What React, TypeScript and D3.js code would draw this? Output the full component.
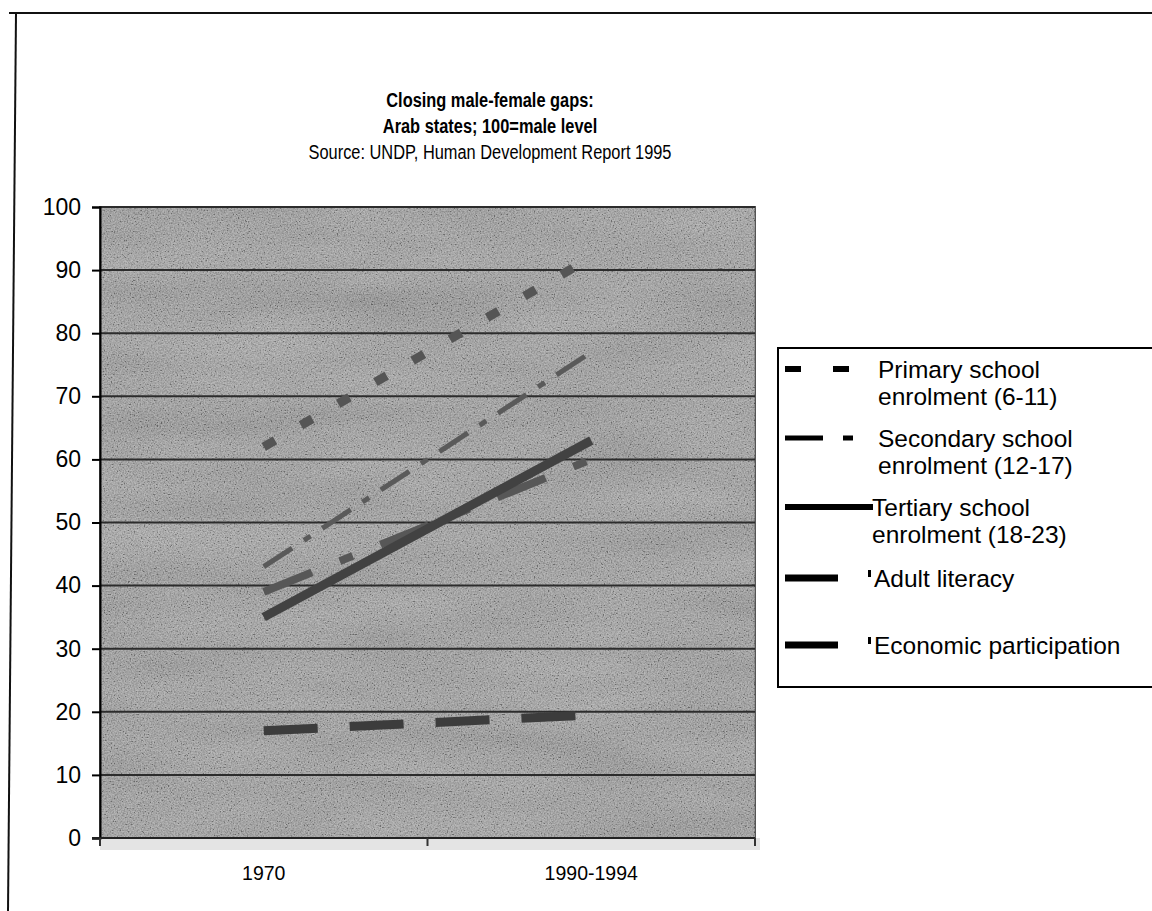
import React, { useEffect, useRef } from "react";
import * as d3 from "d3";

const categories = ["1970", "1990-1994"];
const yTicks = [0, 10, 20, 30, 40, 50, 60, 70, 80, 90, 100];

const primary = [62, 92];
const secondary = [43, 77];
const tertiary = [35, 63];
const adultLiteracy = [39, 60];
const economic = [17, 19.5];

const titleLines = [
  "Closing male-female gaps:",
  "Arab states; 100=male level",
  "Source: UNDP, Human Development Report 1995",
];

const App = () => {
  const chartRef = useRef(null);

  useEffect(() => {
    const W = 1152;
    const H = 911;
    const plot = { left: 100, right: 755, top: 207, bottom: 838 };
    const font = "'Liberation Sans', Arial, sans-serif";

    d3.select(chartRef.current).select("svg").remove();

    const svg = d3
      .select(chartRef.current)
      .append("svg")
      .attr("width", W)
      .attr("height", H)
      .style("display", "block")
      .style("background", "#fff");

    // grain + blotches so the plot looks like the photocopy
    const defs = svg.append("defs");
    const f = defs.append("filter").attr("id", "grain").attr("x", 0).attr("y", 0).attr("width", 1).attr("height", 1);
    f.append("feTurbulence")
      .attr("type", "fractalNoise")
      .attr("baseFrequency", 0.7)
      .attr("numOctaves", 2)
      .attr("seed", 4);
    f.append("feColorMatrix")
      .attr("type", "matrix")
      .attr("values", "0.33 0.33 0.33 0 0  0.33 0.33 0.33 0 0  0.33 0.33 0.33 0 0  0 0 0 0 1");
    const ct = f.append("feComponentTransfer");
    ["feFuncR", "feFuncG", "feFuncB"].forEach((fn) => ct.append(fn).attr("type", "linear").attr("slope", 3.2).attr("intercept", -1.05));
    ct.append("feFuncA").attr("type", "linear").attr("slope", 0).attr("intercept", 0.3);

    const f2 = defs.append("filter").attr("id", "blotch").attr("x", 0).attr("y", 0).attr("width", 1).attr("height", 1);
    f2.append("feTurbulence")
      .attr("type", "fractalNoise")
      .attr("baseFrequency", "0.006 0.025")
      .attr("numOctaves", 2)
      .attr("seed", 9);
    f2.append("feColorMatrix")
      .attr("type", "matrix")
      .attr("values", "0.33 0.33 0.33 0 0  0.33 0.33 0.33 0 0  0.33 0.33 0.33 0 0  0 0 0 0 0.3");

    // outer frame
    svg.append("line").attr("x1", 9).attr("y1", 13).attr("x2", W).attr("y2", 13).attr("stroke", "#111").attr("stroke-width", 2);
    svg.append("line").attr("x1", 16).attr("y1", 13).attr("x2", 8).attr("y2", H).attr("stroke", "#111").attr("stroke-width", 2);

    // title (the scan's title type is narrow)
    titleLines.forEach((t, i) => {
      svg
        .append("text")
        .attr("transform", `translate(490,${107 + i * 26}) scale(0.78,1)`)
        .attr("text-anchor", "middle")
        .attr("font-family", font)
        .attr("font-size", 21)
        .attr("font-weight", i < 2 ? "bold" : "normal")
        .attr("fill", "#000")
        .text(t);
    });

    const xBand = d3.scaleBand().domain(categories).range([plot.left, plot.right]);
    const x = d3.scalePoint().domain(categories).range([plot.left, plot.right]).padding(0.5);
    const y = d3.scaleLinear().domain([0, 100]).range([plot.bottom, plot.top]);

    // plot background
    svg.append("rect")
      .attr("x", plot.left)
      .attr("y", plot.bottom)
      .attr("width", plot.right - plot.left + 5)
      .attr("height", 12)
      .attr("fill", "#e4e4e4");
    svg.append("rect")
      .attr("x", plot.left)
      .attr("y", plot.top)
      .attr("width", plot.right - plot.left)
      .attr("height", plot.bottom - plot.top)
      .attr("fill", "#8a8a8a")
      .attr("stroke", "#555")
      .attr("stroke-width", 2);
    svg.append("rect")
      .attr("x", plot.left)
      .attr("y", plot.top)
      .attr("width", plot.right - plot.left)
      .attr("height", plot.bottom - plot.top)
      .attr("filter", "url(#blotch)");
    svg.append("rect")
      .attr("x", plot.left)
      .attr("y", plot.top)
      .attr("width", plot.right - plot.left)
      .attr("height", plot.bottom - plot.top)
      .attr("filter", "url(#grain)");

    // gridlines
    svg
      .selectAll(".grid")
      .data(yTicks.filter((d) => d > 0))
      .enter()
      .append("line")
      .attr("x1", plot.left)
      .attr("x2", plot.right)
      .attr("y1", (d) => y(d))
      .attr("y2", (d) => y(d))
      .attr("stroke", "#2c2c2c")
      .attr("stroke-width", 2);

    // y axis
    const yAxis = svg.append("g").attr("transform", `translate(${plot.left},0)`).call(d3.axisLeft(y).tickValues(yTicks).tickSize(8).tickPadding(11));
    yAxis.select(".domain").attr("stroke", "#000").attr("stroke-width", 2);
    yAxis.selectAll(".tick line").attr("stroke", "#000").attr("stroke-width", 2);
    yAxis.selectAll(".tick text").attr("font-family", font).attr("font-size", 23).attr("fill", "#000");

    // x axis
    svg.append("line")
      .attr("x1", plot.left - 8).attr("x2", plot.right)
      .attr("y1", plot.bottom).attr("y2", plot.bottom)
      .attr("stroke", "#222").attr("stroke-width", 2);
    const xTickPos = categories.map((c) => xBand(c)).concat([xBand(categories[categories.length - 1]) + xBand.bandwidth()]);
    svg
      .selectAll(".xtick")
      .data(xTickPos)
      .enter()
      .append("line")
      .attr("x1", (d) => d)
      .attr("x2", (d) => d)
      .attr("y1", plot.bottom)
      .attr("y2", plot.bottom + 8)
      .attr("stroke", "#333")
      .attr("stroke-width", 2);
    svg
      .selectAll(".xlabel")
      .data(categories)
      .enter()
      .append("text")
      .attr("x", (d) => x(d))
      .attr("y", plot.bottom + 42)
      .attr("text-anchor", "middle")
      .attr("font-family", font)
      .attr("font-size", 19.5)
      .attr("fill", "#000")
      .text((d) => d);

    const series = [
      { name: "Primary", values: primary, color: "#555", width: 9, dash: "13,30" },
      { name: "Secondary", values: secondary, color: "#5a5a5a", width: 5, dash: "34,14,8,14" },
      { name: "Adult", values: adultLiteracy, color: "#575757", width: 8, dash: "52,30,14,30" },
      { name: "Tertiary", values: tertiary, color: "#424242", width: 9, dash: null },
      { name: "Economic", values: economic, color: "#3c3c3c", width: 9, dash: "54,32" },
    ];

    const line = d3
      .line()
      .x((d) => x(d.c))
      .y((d) => y(d.v));

    series.forEach((s) => {
      svg
        .append("path")
        .datum(categories.map((c, i) => ({ c, v: s.values[i] })))
        .attr("fill", "none")
        .attr("stroke", s.color)
        .attr("stroke-width", s.width)
        .attr("stroke-dasharray", s.dash)
        .attr("d", line);
    });

    // legend
    const lg = svg.append("g");
    lg.append("rect")
      .attr("x", 778)
      .attr("y", 348)
      .attr("width", 390)
      .attr("height", 339)
      .attr("fill", "#fff")
      .attr("stroke", "#000")
      .attr("stroke-width", 2);

    const legendItems = [
      { lines: ["Primary school", "enrolment (6-11)"], y: 369, w: 6, len: 64, dash: "16,32", tx: 878 },
      { lines: ["Secondary school", "enrolment (12-17)"], y: 438, w: 5, len: 68, dash: "38,20,10,20", tx: 878 },
      { lines: ["Tertiary school", "enrolment (18-23)"], y: 507, w: 6, len: 88, dash: null, tx: 872 },
      { lines: ["Adult literacy"], y: 578, w: 7, len: 53, dash: null, tx: 874, mark: true },
      { lines: ["Economic participation"], y: 645, w: 7, len: 53, dash: null, tx: 874, mark: true },
    ];

    legendItems.forEach((it) => {
      lg.append("line")
        .attr("x1", 785)
        .attr("x2", 785 + it.len)
        .attr("y1", it.y)
        .attr("y2", it.y)
        .attr("stroke", "#000")
        .attr("stroke-width", it.w)
        .attr("stroke-dasharray", it.dash);
      if (it.mark) {
        lg.append("rect").attr("x", 868).attr("y", it.y - 8).attr("width", 3).attr("height", 7).attr("fill", "#000");
      }
      it.lines.forEach((t, i) => {
        lg.append("text")
          .attr("x", it.tx)
          .attr("y", it.y + 9 + i * 27)
          .attr("font-family", font)
          .attr("font-size", 24.5)
          .attr("fill", "#000")
          .text(t);
      });
    });
  }, []);

  return <div ref={chartRef} style={{ position: "absolute", left: 0, top: 0 }}></div>;
};

export default App;
